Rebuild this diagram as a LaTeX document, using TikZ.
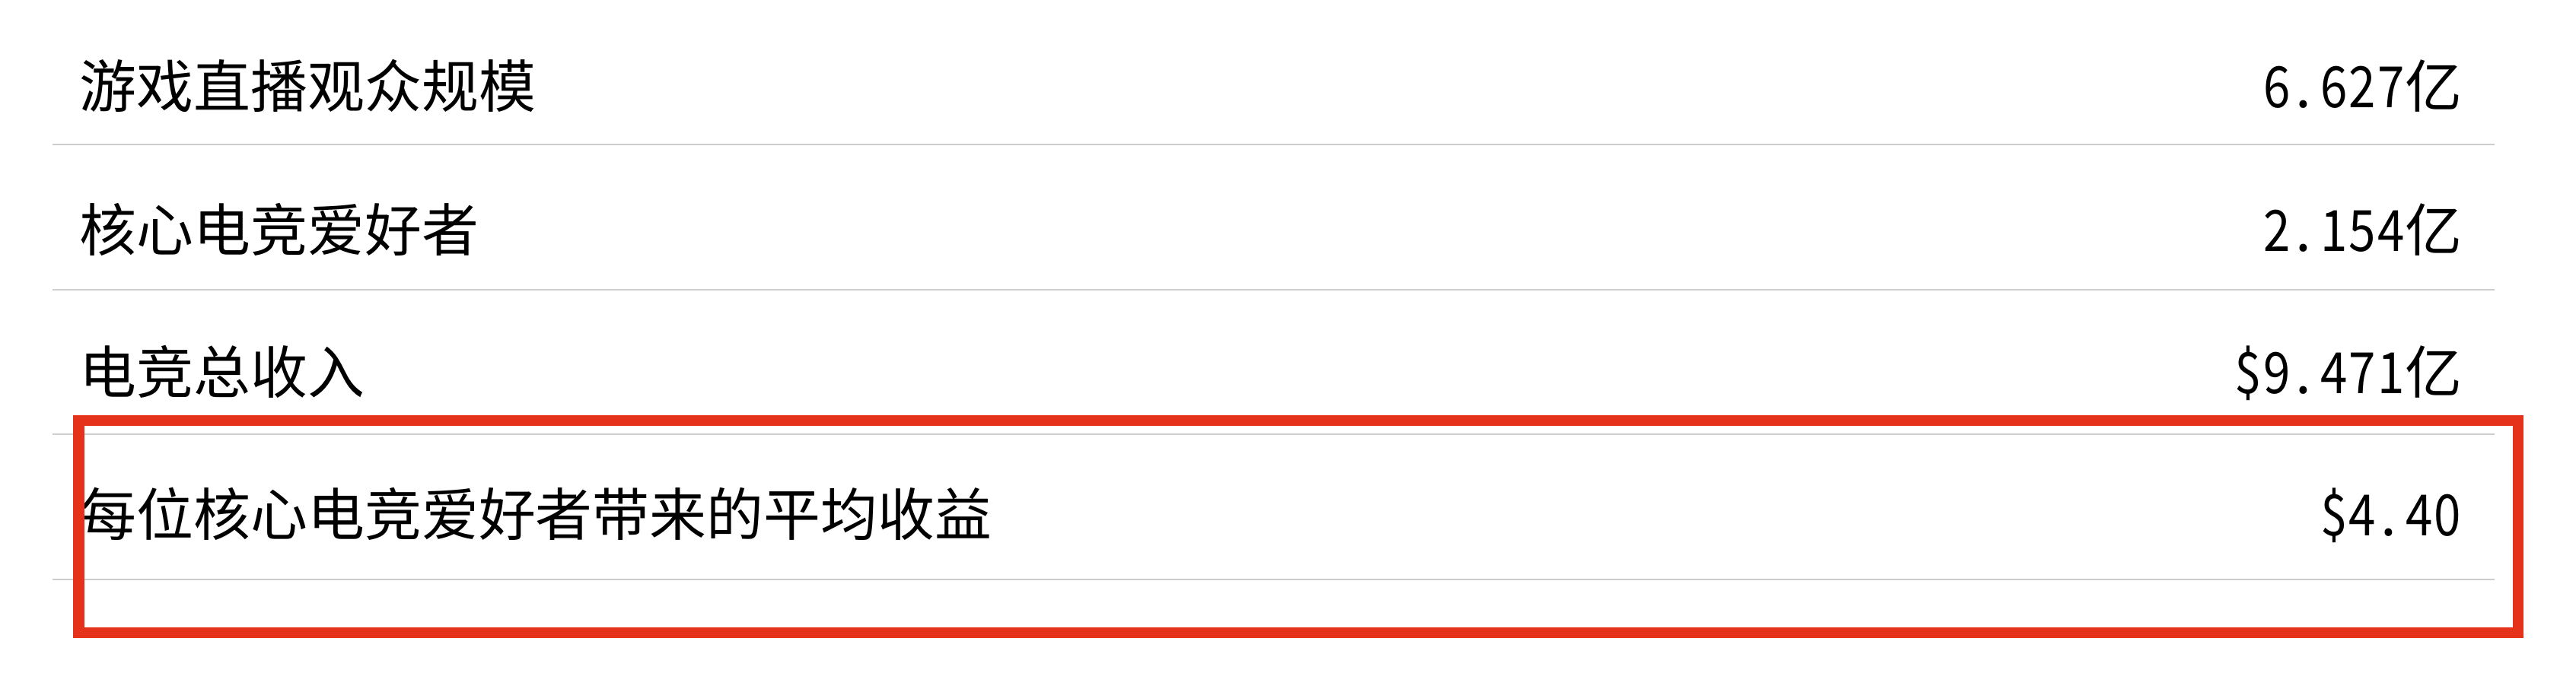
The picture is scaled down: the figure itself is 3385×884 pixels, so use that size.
\documentclass[tikz,border=0pt]{standalone}
\usepackage{fontspec}
\usepackage{graphicx}
\setmainfont{Noto Sans CJK SC}
\usetikzlibrary{positioning}

% half-width cells for the numbers
\newcommand{\hw}[1]{\makebox[0.5em]{\scalebox{0.85}[1]{#1}}}
\newcommand{\hdot}{\makebox[0.5em][l]{\hspace{0.08em}.}}

\definecolor{markred}{RGB}{228,50,27}
\definecolor{rulegray}{RGB}{205,205,205}

\begin{document}
\begin{tikzpicture}[x=0.01cm,y=-0.01cm]
	\tikzset{label/.style={anchor=base west, inner sep=0pt, font=\fontsize{21.3pt}{25pt}\selectfont},
		value/.style={anchor=base east, inner sep=0pt, font=\fontsize{21.3pt}{25pt}\selectfont},
		rowline/.style={rulegray, line width=0.02cm}}

	\useasboundingbox (0,0) rectangle (3385,884);

	% separators
	\foreach \y in {190,381,571,762}{
		\draw[rowline] (69,\y) -- (3278,\y);
	}

	% labels and values
	\foreach \n/\y/\lbl/\val in {1/114/{游戏直播观众规模}/{\hw{6}\hdot\hw{6}\hw{2}\hw{7}亿},
		2/303/{核心电竞爱好者}/{\hw{2}\hdot\hw{1}\hw{5}\hw{4}亿},
		3/490/{电竞总收入}/{\hw{\$}\hw{9}\hdot\hw{4}\hw{7}\hw{1}亿},
		4/677/{每位核心电竞爱好者带来的平均收益}/{\hw{\$}\hw{4}\hdot\hw{4}\hw{0}}}{
		\node[label] (lbl\n) at (104,\y+27) {\lbl};
		\node[value] (val\n) at (3236,\y+27) {\val};
	}

	% highlight
	\draw[markred, line width=0.14cm] (103.5,553) rectangle (3308.5,832);
\end{tikzpicture}
\end{document}
